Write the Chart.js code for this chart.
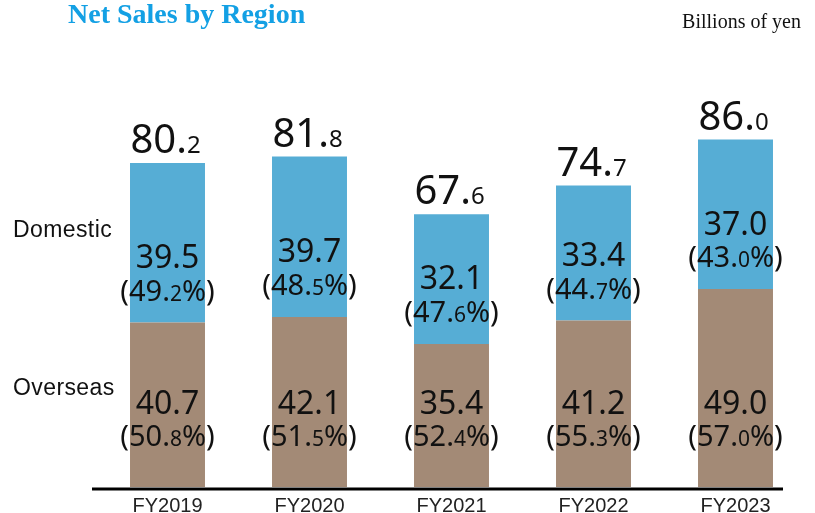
<!DOCTYPE html>
<html>
<head>
<meta charset="utf-8">
<script src="https://cdn.jsdelivr.net/npm/chart.js@4.4.1/dist/chart.umd.min.js"></script>
<style>
  html, body { margin: 0; padding: 0; background: #fff; }
  #salesChart { display: block; }
</style>
</head>
<body>
<canvas id="salesChart" width="815" height="513"></canvas>
<script>
const years = ['FY2019', 'FY2020', 'FY2021', 'FY2022', 'FY2023'];
const overseas = [40.7, 42.1, 35.4, 41.2, 49.0];
const domestic = [39.5, 39.7, 32.1, 33.4, 37.0];
const totals = [80.2, 81.8, 67.6, 74.7, 86.0];
const overseasPct = [50.8, 51.5, 52.4, 55.3, 57.0];
const domesticPct = [49.2, 48.5, 47.6, 44.7, 43.0];

const BLUE = '#56add5';
const BROWN = '#a38a76';
const NUM_FONT = '"Noto Sans", "DejaVu Sans", sans-serif';

// draw pieces of text side by side, each with its own font size, centred on cx
function drawPieces(ctx, pieces, cx, baseline) {
    let total = 0;
    pieces.forEach(p => {
        ctx.font = p.size + 'px ' + NUM_FONT;
        p.w = ctx.measureText(p.text).width;
        total += p.w;
    });
    let x = cx - total / 2;
    ctx.textAlign = 'left';
    ctx.textBaseline = 'alphabetic';
    pieces.forEach(p => {
        ctx.font = p.size + 'px ' + NUM_FONT;
        ctx.fillText(p.text, x, baseline);
        x += p.w;
    });
}

function splitNum(v) {
    const s = v.toFixed(1).split('.');
    return [s[0] + '.', s[1]];
}

function pctPieces(v) {
    const s = splitNum(v);
    return [{text: '(' + s[0], size: 29}, {text: s[1], size: 21}, {text: '%)', size: 29}];
}

const labelPlugin = {
    id: 'labelPlugin',
    afterDatasetsDraw(chart) {
        const ctx = chart.ctx;
        const area = chart.chartArea;
        const low = chart.getDatasetMeta(0).data;
        const high = chart.getDatasetMeta(1).data;
        ctx.save();

        // axis line
        ctx.strokeStyle = '#000';
        ctx.lineWidth = 3;
        ctx.beginPath();
        ctx.moveTo(area.left - 4.5, area.bottom + 2);
        ctx.lineTo(area.right - 23.5, area.bottom + 2);
        ctx.stroke();

        ctx.fillStyle = '#111';
        years.forEach((y, i) => {
            const lo = low[i], hi = high[i];
            const cx = lo.x;
            // total above the bar
            const t = splitNum(totals[i]);
            drawPieces(ctx, [{text: t[0], size: 40}, {text: t[1], size: 24}], cx - 2, hi.y - 10);

            // domestic value + share
            drawPieces(ctx, [{text: domestic[i].toFixed(1), size: 32}], cx, hi.base - 66 + 11.5);
            drawPieces(ctx, pctPieces(domesticPct[i]), cx, hi.base - 32 + 10.3);

            // overseas value + share
            drawPieces(ctx, [{text: overseas[i].toFixed(1), size: 32}], cx, lo.base - 85 + 11.5);
            drawPieces(ctx, pctPieces(overseasPct[i]), cx, lo.base - 51 + 10.3);
        });

        // series names on the left
        ctx.font = '23px "Liberation Sans", Arial, sans-serif';
        ctx.letterSpacing = '0.4px';
        ctx.textAlign = 'left';
        ctx.textBaseline = 'middle';
        ctx.fillStyle = '#111';
        ctx.fillText('Domestic', 13, (high[0].y + high[0].base) / 2 - 12);
        ctx.fillText('Overseas', 13, (low[0].y + low[0].base) / 2 - 16);
        ctx.letterSpacing = '0px';

        // title and unit
        ctx.textBaseline = 'alphabetic';
        ctx.font = 'bold 28px "Liberation Serif", "Times New Roman", serif';
        ctx.fillStyle = '#13a0e4';
        ctx.fillText('Net Sales by Region', 68, 23);
        ctx.font = '20px "Liberation Serif", "Times New Roman", serif';
        ctx.fillStyle = '#111';
        ctx.textAlign = 'right';
        ctx.fillText('Billions of yen', 801, 28);
        ctx.restore();
    }
};

const ctx = document.getElementById('salesChart').getContext('2d');
const chart = new Chart(ctx, {
    type: 'bar',
    data: {
        labels: years,
        datasets: [
            {label: 'Overseas', data: overseas, backgroundColor: BROWN, borderWidth: 0},
            {label: 'Domestic', data: domestic, backgroundColor: BLUE, borderWidth: 0}
        ]
    },
    options: {
        responsive: false,
        animation: false,
        layout: {padding: {left: 96.5, right: 8.5, top: 83, bottom: 0}},
        datasets: {bar: {categoryPercentage: 1, barPercentage: 0.528}},
        scales: {
            x: {
                stacked: true,
                grid: {display: false, drawTicks: false},
                border: {display: false},
                afterFit: (scale) => { scale.height = 26; },
                ticks: {
                    color: '#222',
                    padding: 9,
                    font: {family: '"Liberation Sans", Arial, sans-serif', size: 20, lineHeight: 1}
                }
            },
            y: {
                stacked: true,
                display: false,
                min: 0,
                max: 100
            }
        },
        plugins: {
            legend: {display: false},
            tooltip: {enabled: false}
        }
    },
    plugins: [labelPlugin]
});
</script>
</body>
</html>
